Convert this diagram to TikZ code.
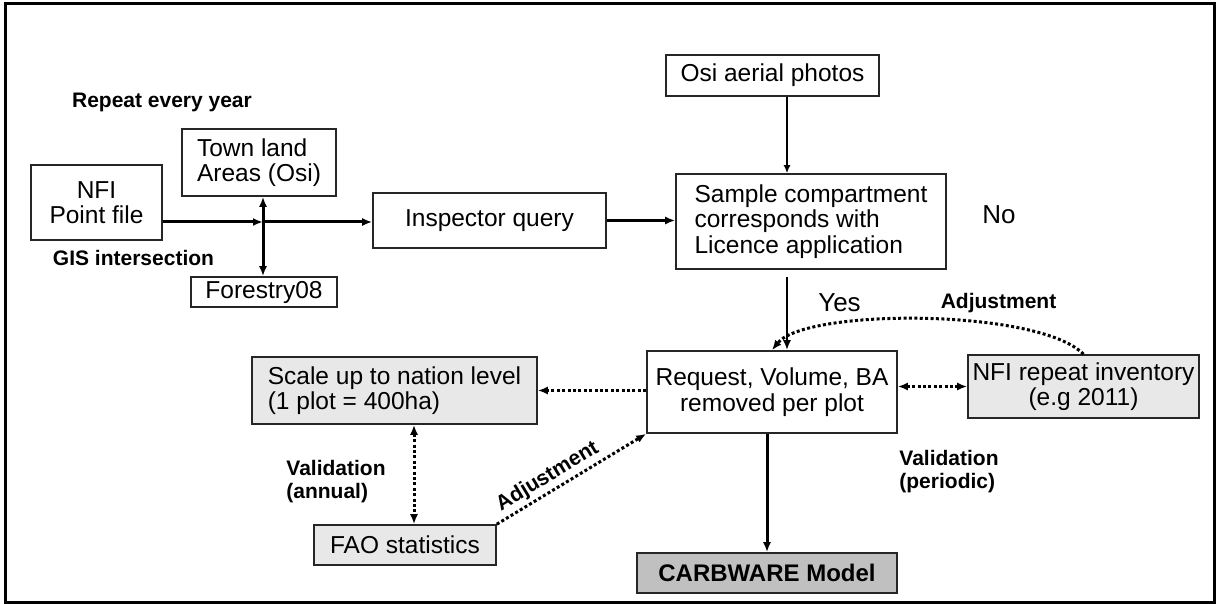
\documentclass[tikz,border=0pt]{standalone}
\usepackage{fontspec}
\setmainfont{Liberation Sans}
\usetikzlibrary{arrows.meta}
\definecolor{lightbox}{RGB}{232,232,232}
\definecolor{modelbox}{RGB}{192,192,192}

\begin{document}
\begin{tikzpicture}[x=1pt, y=-1pt,
    >={Latex[length=10pt,width=8pt]},
    box/.style={draw=black!85, line width=1.6pt, inner sep=0pt,
                font=\fontsize{24.5}{25.5}\selectfont, align=center},
    tinted/.style={box, fill=lightbox},
    note/.style={inner sep=0pt, align=left,
                 font=\fontsize{21}{23}\selectfont\bfseries},
    answer/.style={inner sep=0pt, font=\fontsize{26}{28}\selectfont},
    mainline/.style={->, line width=3pt},
    dotline/.style={->, line width=3pt, dash pattern=on 3pt off 2.4pt}]
        \useasboundingbox (0,0) rectangle (1216,604);
        \draw[line width=3pt] (5.5,3.5) rectangle (1214,602);

        \node[box, minimum width=131pt, minimum height=75pt] (nfi) at (96.5,202.5)
              {NFI\\Point file};
        \node[box, align=left, minimum width=154pt, minimum height=67pt] (town) at (259,162.5)
              {Town land\\Areas (Osi)};
        \node[box, minimum width=146pt, minimum height=30pt] (forestry) at (264,292)
              {Forestry08};
        \node[box, minimum width=233pt, minimum height=55pt] (insp) at (489.5,220.5)
              {Inspector query};
        \node[box, minimum width=213pt, minimum height=41pt] (osi) at (772.5,75.5)
              {Osi aerial photos};
        \node[box, align=left, minimum width=270pt, minimum height=95pt] (sample) at (811,221.5)
              {Sample compartment\\corresponds with\\Licence application};
        \node[box, minimum width=250pt, minimum height=82pt] (req) at (772,392)
              {Request, Volume, BA\\removed per plot};
        \node[tinted, minimum width=231pt, minimum height=63pt] (rep) at (1083.5,386.5)
              {NFI repeat inventory\\(e.g 2011)};
        \node[tinted, align=left, minimum width=285pt, minimum height=67pt] (scale) at (394.5,390.5)
              {Scale up to nation level\\(1 plot = 400ha)};
        \node[tinted, minimum width=182pt, minimum height=40pt] (fao) at (405,545)
              {FAO statistics};
        \node[box, fill=modelbox, font=\fontsize{24}{26}\selectfont\bfseries,
              minimum width=260pt, minimum height=40pt] (carb) at (767,573)
              {CARBWARE Model};

        \node[note] (repeat) at (162,102) {Repeat every year};
        \node[note] (gis) at (133.5,258) {GIS intersection};
        \node[note] (annual) at (336,481.5) {Validation\\(annual)};
        \node[note] (periodic) at (949,471.5) {Validation\\(periodic)};
        \node[note] (adjnfi) at (998.5,303) {Adjustment};
        \node[answer] (yes) at (839.5,303) {Yes};
        \node[answer] (no) at (999,215) {No};

        \coordinate (cross) at (263,222);
        \coordinate (osiout) at ([xshift=14.5pt]osi.south);
        \coordinate (yesfrom) at (787,277);
        \coordinate (faotop) at ([xshift=9pt]fao.north);

        \draw[mainline] (nfi.east |- cross) -- (cross);
        \draw[mainline] (cross) -- (cross -| insp.west);
        \draw[mainline, <->] (cross |- town.south) -- (cross |- forestry.north);
        \draw[mainline] (insp.east) -- (insp.east -| sample.west);
        \draw[-{Latex[length=8pt,width=7pt]}, line width=1.6pt] (osiout) -- (osiout |- sample.north);
        \draw[mainline, line width=2.4pt] (yesfrom) -- (yesfrom |- req.north);
        \draw[mainline] (req.south -| carb.north) -- (carb.north);

        \draw[dotline] (req.west |- scale.east) -- (scale.east);
        \draw[dotline, <->] (req.east |- rep.west) -- (rep.west);
        \draw[dotline, <->] (faotop |- scale.south) -- (faotop);
        \draw[dotline] (fao.north east) -- (req.south west)
              node[pos=0.39, sloped, above=3pt, note] (adjfao) {Adjustment};
        \draw[dotline] (rep.north) .. controls +(-45,-46) and +(33,-42) .. (req.north);
      \end{tikzpicture}
\end{document}
